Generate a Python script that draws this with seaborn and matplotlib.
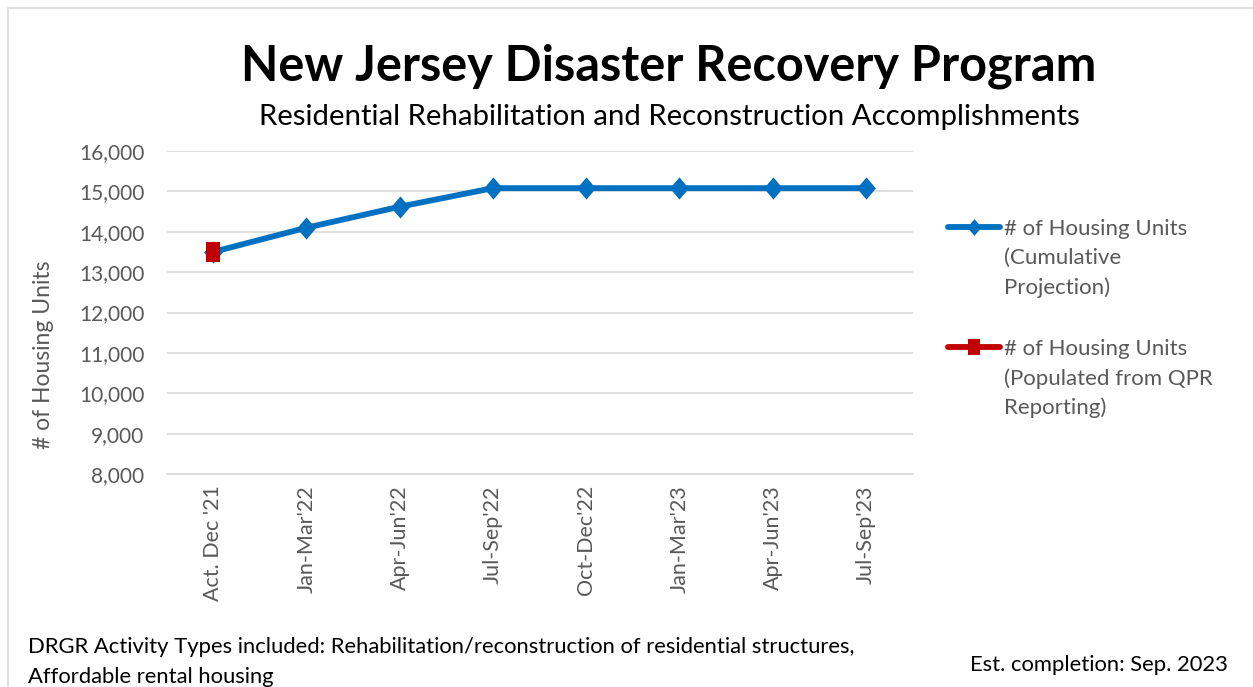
import matplotlib
matplotlib.use("Agg")
import matplotlib.pyplot as plt
import numpy as np
import pandas as pd
import seaborn as sns
from matplotlib.lines import Line2D
from matplotlib.patches import Rectangle

quarters = ["Act. Dec '21", "Jan-Mar'22", "Apr-Jun'22", "Jul-Sep'22",
            "Oct-Dec'22", "Jan-Mar'23", "Apr-Jun'23", "Jul-Sep'23"]
projection = [13500, 14100, 14620, 15080, 15080, 15080, 15080, 15080]
qpr = [13500, np.nan, np.nan, np.nan, np.nan, np.nan, np.nan, np.nan]
y_ticks = list(range(8000, 16001, 1000))

sns.set_theme(style="white")
plt.rcParams["font.family"] = ["Lato", "DejaVu Sans"]

grey = "#595959"
blue = "#0070C0"
red = "#C00000"

# marker shapes like the office chart: tall diamond and tall square
diamond = [(0, 1), (0.85, 0), (0, -1), (-0.85, 0), (0, 1)]
tall_sq = [(-0.75, -1), (0.75, -1), (0.75, 1), (-0.75, 1), (-0.75, -1)]

df = pd.DataFrame({"quarter": quarters, "projection": projection, "qpr": qpr})

fig = plt.figure(figsize=(12.53, 6.87), dpi=100)
ax = fig.add_axes([0.1329, 0.3100, 0.5954, 0.4702])

sns.lineplot(data=df, x="quarter", y="projection", sort=False, ax=ax,
             color=blue, linewidth=4.2, marker=diamond, markersize=16,
             markeredgewidth=0, markerfacecolor=blue)
sns.lineplot(data=df, x="quarter", y="qpr", sort=False, ax=ax,
             color=red, linewidth=4.2, marker=tall_sq, markersize=14,
             markeredgewidth=0, markerfacecolor=red)

ax.set_xlim(-0.5, len(quarters) - 0.5)
ax.set_ylim(8000, 16000)
ax.set_yticks(y_ticks)
ax.set_yticklabels([f"{v:,}" for v in y_ticks])
ax.yaxis.grid(True, color="#D9D9D9", linewidth=1.2)
ax.set_axisbelow(True)
for s in ["top", "right", "left"]:
    ax.spines[s].set_visible(False)
ax.spines["bottom"].set_color("#D9D9D9")
ax.spines["bottom"].set_linewidth(1.2)
ax.tick_params(axis="x", rotation=90, labelsize=15.5, colors=grey, length=0, pad=8)
ax.tick_params(axis="y", labelsize=15, colors=grey, length=0, pad=16)
ax.set_xlabel("")
ax.set_ylabel("")
fig.text(0.035, 0.483, "# of Housing Units", rotation=90, ha="center", va="center",
         fontsize=16.5, color=grey)

fig.text(0.534, 0.904, "New Jersey Disaster Recovery Program",
         ha="center", va="center", fontsize=35, fontweight="bold", color="black")
fig.text(0.534, 0.830, "Residential Rehabilitation and Reconstruction Accomplishments",
         ha="center", va="center", fontsize=21.2, color="black")

# legend, drawn by hand so the key sits on the first text line
legend_rows = [
    (blue, diamond, 12, "# of Housing Units\n(Cumulative\nProjection)", 227),
    (red, tall_sq, 11, "# of Housing Units\n(Populated from QPR\nReporting)", 347),
]
for col, mk, ms, lab, ypx in legend_rows:
    yf = 1 - ypx / 687
    fig.add_artist(Line2D([948 / 1253, 1000 / 1253], [yf, yf], transform=fig.transFigure,
                          color=col, linewidth=4.2, solid_capstyle="round"))
    fig.add_artist(Line2D([974 / 1253], [yf], transform=fig.transFigure, color=col,
                          marker=mk, markersize=ms, markeredgewidth=0, markerfacecolor=col))
    fig.text(1004 / 1253, yf + 8 / 687, lab, ha="left", va="top", fontsize=16,
             color=grey, linespacing=1.55)

fig.text(0.022, 0.058, "DRGR Activity Types included: Rehabilitation/reconstruction of residential structures,",
         ha="left", va="center", fontsize=15.8, color="black")
fig.text(0.022, 0.015, "Affordable rental housing",
         ha="left", va="center", fontsize=15.8, color="black")
fig.text(0.980, 0.032, "Est. completion: Sep. 2023",
         ha="right", va="center", fontsize=15.8, color="black")

fig.patches.append(Rectangle((0.006, -0.01), 1.2, 0.998, transform=fig.transFigure,
                             fill=False, edgecolor="#D9D9D9", linewidth=1.2))

fig.savefig("out.png", dpi=100)
